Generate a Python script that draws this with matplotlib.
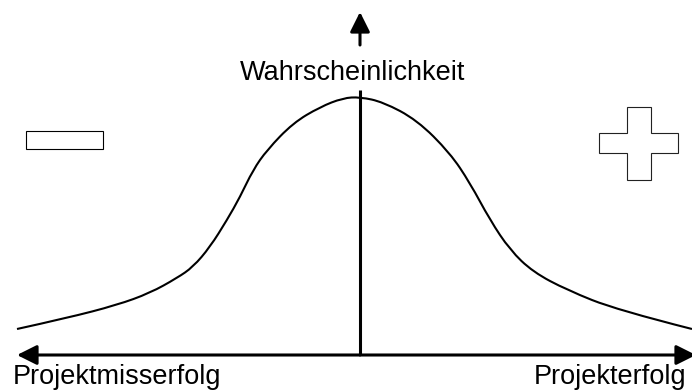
import matplotlib
matplotlib.use("Agg")
import matplotlib.pyplot as plt
from matplotlib.patches import Rectangle, Polygon, PathPatch
from matplotlib.path import Path

# ---- data (outcome vs. probability) ----
curve_x = [-3.43, -2.93, -2.43, -2.10, -1.83, -1.67, -1.50, -1.33, -1.20, -1.07,
           -0.93, -0.67, -0.40, -0.17, 0.00, 0.23, 0.57, 0.90, 1.10, 1.30,
           1.50, 1.73, 2.07, 2.57, 3.32]
curve_y = [0.26, 0.37, 0.50, 0.62, 0.77, 0.88, 1.08, 1.35, 1.58, 1.85,
           2.05, 2.32, 2.48, 2.57, 2.58, 2.53, 2.35, 2.02, 1.72, 1.35,
           1.05, 0.83, 0.65, 0.45, 0.26]
y_label = "Wahrscheinlichkeit"
x_label_left = "Projektmisserfolg"
x_label_right = "Projekterfolg"

plt.rcParams['font.family'] = ['Liberation Sans', 'DejaVu Sans']

fig = plt.figure(figsize=(6.92, 3.92), dpi=100)
ax = fig.add_axes([0, 0, 1, 1])
ax.set_xlim(-3.60, 3.32)
ax.set_ylim(-0.37, 3.55)
ax.axis('off')

# bell curve, drawn as a smooth path through the read points
pts = list(zip(curve_x, curve_y))
verts = [pts[0]]
codes = [Path.MOVETO]
for i in range(1, len(pts) - 1):
    mid = ((pts[i][0] + pts[i + 1][0]) / 2, (pts[i][1] + pts[i + 1][1]) / 2)
    if i == len(pts) - 2:
        mid = pts[-1]
    verts += [pts[i], mid]
    codes += [Path.CURVE3, Path.CURVE3]
ax.add_patch(PathPatch(Path(verts, codes), facecolor='none', edgecolor='black',
                       lw=1.5, zorder=3))

# vertical line
ax.plot([0, 0], [0, 2.65], color='black', lw=2.2, solid_capstyle='butt', zorder=4)

arrow_kw = dict(arrowstyle='-|>', mutation_scale=30, lw=2.2, color='black',
                shrinkA=0, shrinkB=0)
# horizontal double arrow
ax.annotate('', xy=(-3.43, 0), xytext=(0, 0), arrowprops=arrow_kw,
            annotation_clip=False)
ax.annotate('', xy=(3.36, 0), xytext=(0, 0), arrowprops=arrow_kw,
            annotation_clip=False)
# up arrow
ax.annotate('', xy=(0, 3.43), xytext=(0, 3.10), arrowprops=arrow_kw,
            annotation_clip=False)

# labels
ax.text(-0.07, 2.75, y_label, ha='center', va='baseline', fontsize=19.5)
ax.text(-3.47, -0.29, x_label_left, ha='left', va='baseline', fontsize=19.5)
ax.text(3.267, -0.29, x_label_right, ha='right', va='baseline', fontsize=19.5)

# minus sign box
ax.add_patch(Rectangle((-3.34, 2.057), 0.773, 0.18, facecolor='white',
                       edgecolor='black', lw=0.8, zorder=5))

# plus sign shape
x0, x1, x2, x3 = 2.393, 2.673, 2.907, 3.183
y0, y1, y2, y3 = 1.75, 2.017, 2.223, 2.483
plus_pts = [(x1, y0), (x2, y0), (x2, y1), (x3, y1), (x3, y2), (x2, y2),
            (x2, y3), (x1, y3), (x1, y2), (x0, y2), (x0, y1), (x1, y1)]
ax.add_patch(Polygon(plus_pts, closed=True, facecolor='white',
                     edgecolor='#222222', lw=0.8, zorder=5))

fig.savefig('out.png', dpi=100)
